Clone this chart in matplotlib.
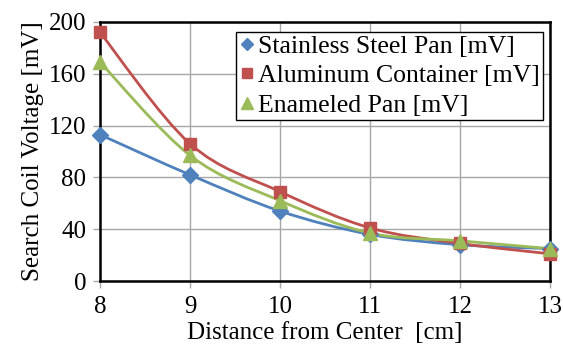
import numpy as np
import matplotlib
matplotlib.use("Agg")
import matplotlib.pyplot as plt
from matplotlib.path import Path
from matplotlib.patches import PathPatch
from matplotlib.lines import Line2D

distance = [8, 9, 10, 11, 12, 13]
stainless = [113, 82, 54, 36, 28, 25]
aluminum = [192, 106, 69, 41, 29, 21]
enameled = [169, 97, 62, 37, 31, 25]
yticks = [0, 40, 80, 120, 160, 200]

plt.rcParams['font.family'] = ['Liberation Serif', 'DejaVu Serif']

fig = plt.figure(figsize=(5.63, 3.49), dpi=100)
ax = fig.add_axes([100/563, 1-281/349, 450/563, 259/349])


def smooth_path(x, y, t=1/6):
    x = np.asarray(x, float); y = np.asarray(y, float)
    verts = [(x[0], y[0])]
    codes = [Path.MOVETO]
    n = len(x)
    for i in range(n-1):
        p0 = np.array([x[max(i-1, 0)], y[max(i-1, 0)]])
        p1 = np.array([x[i], y[i]])
        p2 = np.array([x[i+1], y[i+1]])
        p3 = np.array([x[min(i+2, n-1)], y[min(i+2, n-1)]])
        c1 = p1 + (p2 - p0) * t
        c2 = p2 - (p3 - p1) * t
        verts += [tuple(c1), tuple(c2), tuple(p2)]
        codes += [Path.CURVE4]*3
    return Path(verts, codes)

series = [
    (stainless, '#4F81BD', 'D', 8, 'Stainless Steel Pan [mV]'),
    (aluminum, '#C0504D', 's', 9, 'Aluminum Container [mV]'),
    (enameled, '#9BBB59', '^', 10, 'Enameled Pan [mV]'),
]
for vals, col, mk, ms, lab in series:
    ax.add_patch(PathPatch(smooth_path(distance, vals), facecolor='none',
                           edgecolor=col, lw=2, zorder=3, clip_on=False))
    ax.plot(distance, vals, linestyle='none', color=col, marker=mk,
            markersize=ms, zorder=5, clip_on=False)

ax.set_xlim(8, 13)
ax.set_ylim(0, 200)
ax.set_yticks(yticks)
ax.set_xticks(distance)
ax.grid(True, color='#A6A6A6', lw=1)
ax.set_axisbelow(True)
for s in ax.spines.values():
    s.set_color('black'); s.set_linewidth(1.8)
ax.tick_params(axis='both', labelsize=18, color='#A6A6A6', length=5, width=1)
ax.tick_params(axis='x', pad=6)
ax.tick_params(axis='y', pad=5)
ax.set_xlabel('Distance from Center  [cm]', fontsize=18, labelpad=3)
ax.set_ylabel('Search Coil Voltage [mV]', fontsize=18, labelpad=3)

handles = [Line2D([], [], color=col, marker=mk, markersize=ms*0.8, lw=0)
           for vals, col, mk, ms, lab in series]
leg = ax.legend(handles, [s[4] for s in series], loc='upper right',
                bbox_to_anchor=(543/563, 1-32/349), bbox_transform=fig.transFigure,
                fontsize=18.5, frameon=True, fancybox=False, framealpha=1,
                edgecolor='black', handlelength=0.6, handletextpad=0.15,
                borderpad=0.12, labelspacing=0.25, borderaxespad=0)
leg.get_frame().set_linewidth(1)

fig.savefig('out.png', dpi=100)
